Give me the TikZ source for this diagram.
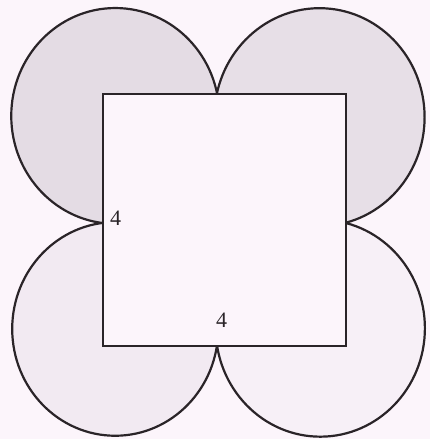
\documentclass[tikz,border=0pt]{standalone}
\usepackage{fontspec}
\setmainfont{Liberation Serif}
\definecolor{bgpink}{HTML}{FCF5FB}
\definecolor{filltl}{HTML}{E4DCE4}
\definecolor{filltr}{HTML}{E7DFE7}
\definecolor{fillbl}{HTML}{F2EAF2}
\definecolor{fillbr}{HTML}{F7F0F7}
\definecolor{inkline}{HTML}{2A2428}
\tikzset{
  outline/.style={draw=inkline, line width=2.2pt},
  sidelabel/.style={inner sep=0pt, text=inkline, font=\fontsize{22}{22}\selectfont},
}
\begin{document}
\begin{tikzpicture}[x=1pt, y=-1pt, yscale=1.037]
  % background and picture size
  \fill[bgpink] (0,0) rectangle (430,423.34);
  \useasboundingbox (0,0) rectangle (430,423.34);
  % fills of the four circles
  \fill[filltl] (115.3,111.8) circle (104.05pt);
  \fill[filltr] (319.5,113.0) circle (105.1pt);
  \fill[fillbl] (115.2,317.2) circle (103.0pt);
  \fill[fillbr] (320.3,316.5) circle (104.6pt);
  % square interior
  \fill[bgpink] (102,89.7) rectangle (345,332.7);
  % outer arcs of the circles (only outside the square)
  \begin{scope}[even odd rule]
    \clip (-10,-10) rectangle (440,440) (102,89.7) rectangle (345,332.7);
    \draw[outline] (115.3,111.8) circle (104.05pt);
    \draw[outline] (319.5,113.0) circle (105.1pt);
    \draw[outline] (115.2,317.2) circle (103.0pt);
    \draw[outline] (320.3,316.5) circle (104.6pt);
  \end{scope}
  % the square
  \node[outline, minimum width=243pt, minimum height=252pt, inner sep=0pt, anchor=north west] (sq) at (102,89.7) {};
  % labels
  \node[sidelabel] (leftfour) at (115.5,210.0) {4};
  \node[sidelabel] (bottomfour) at (221.7,309.3) {4};
\end{tikzpicture}
\end{document}
